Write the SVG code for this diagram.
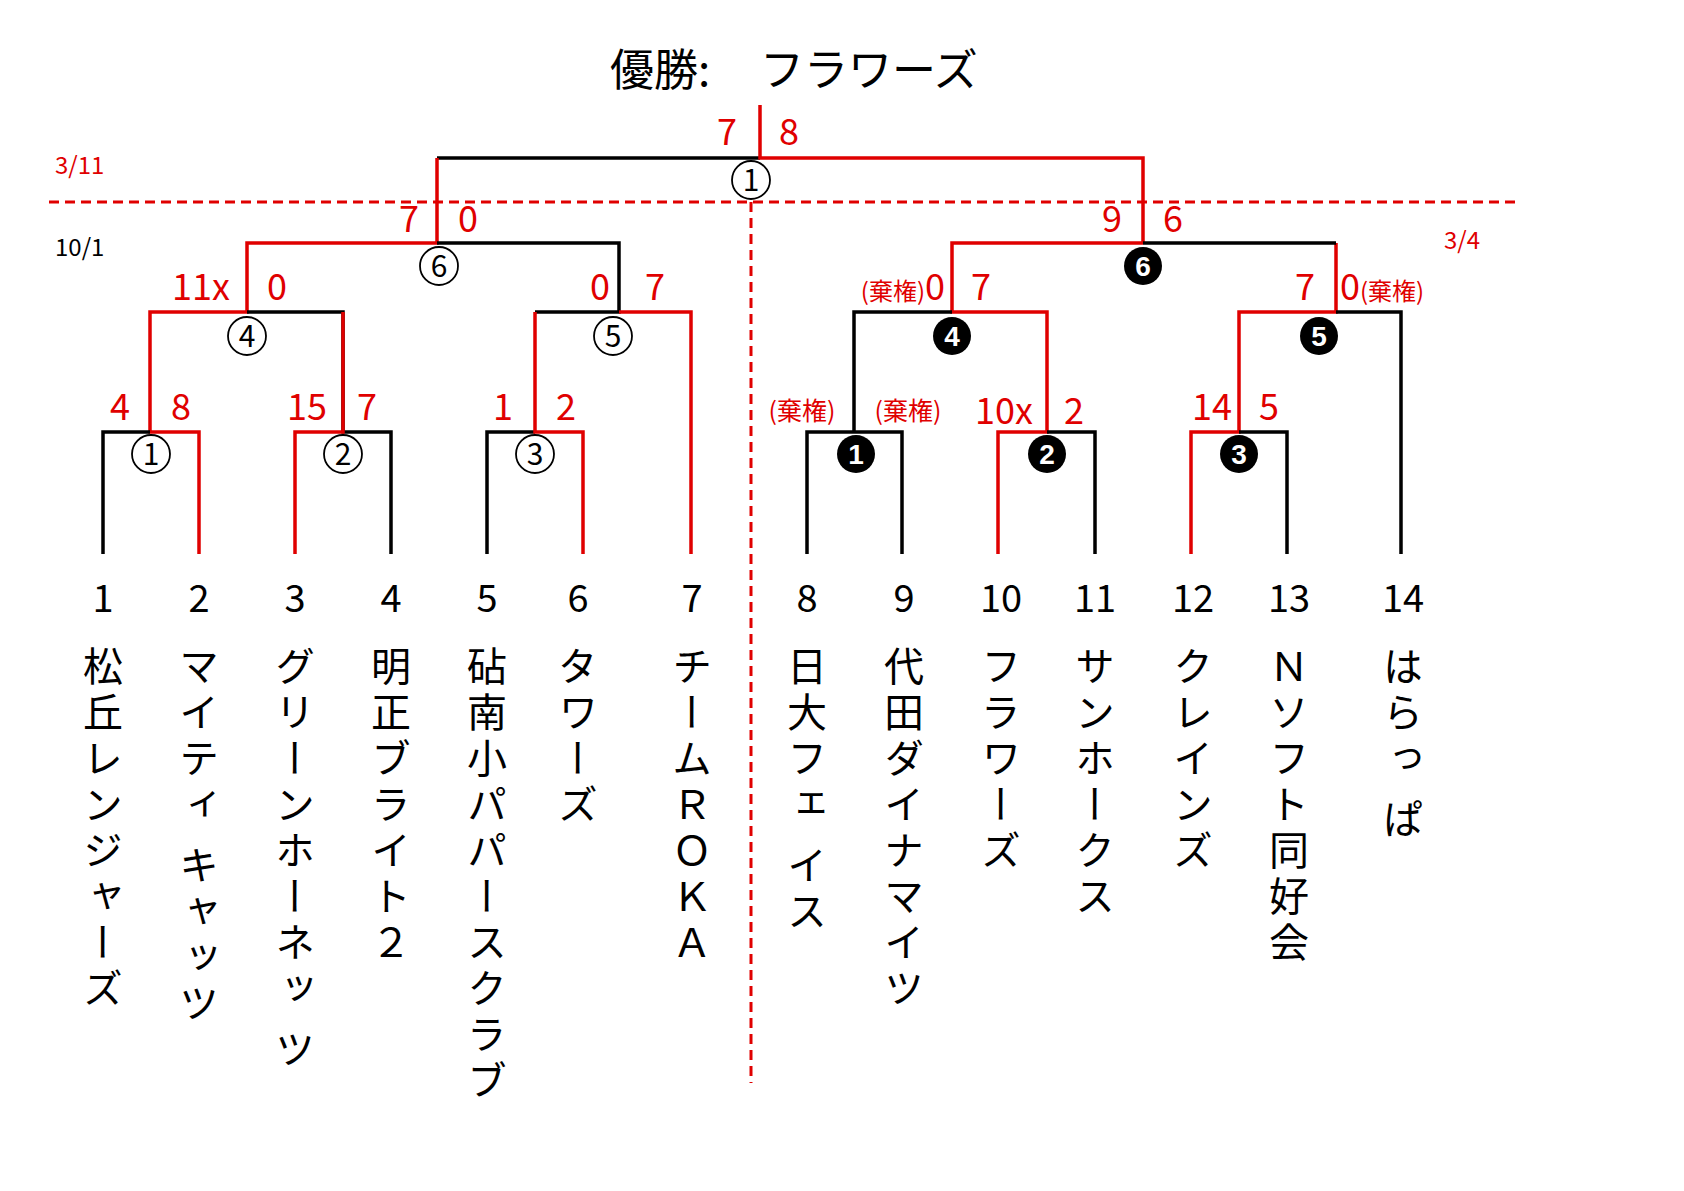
<svg xmlns="http://www.w3.org/2000/svg" width="1684" height="1191" viewBox="0 0 1684 1191">
<style>
.k{stroke:#000;stroke-width:3.5;fill:none}
.r{stroke:#e00000;stroke-width:3.5;fill:none}
.d{stroke:#e00000;stroke-width:3;fill:none;stroke-dasharray:10 6}
text{font-family:"Noto Sans CJK JP","Liberation Sans",sans-serif}
.s{fill:#e00000;font-size:36px;text-anchor:middle}
.e{text-anchor:end}
.st{text-anchor:start}
.sm{fill:#e00000;font-size:24px}
.num{font-size:38px;text-anchor:middle;fill:#000}
.nm{font-size:40px;fill:#000;writing-mode:vertical-rl;letter-spacing:6px}
.wc{fill:#fff;stroke:#000;stroke-width:1.8}
.wt{font-size:30px;text-anchor:middle;fill:#000}
.bt{font-size:28px;font-weight:bold;text-anchor:middle;fill:#fff;font-family:"Liberation Sans",sans-serif}
</style>
<rect width="1684" height="1191" fill="#fff"/>
<text x="610" y="86" font-size="44">優勝:</text>
<text x="760" y="86" font-size="44">フラワーズ</text>
<text x="55" y="174" class="sm">3/11</text>
<text x="55" y="256" font-size="24" fill="#000">10/1</text>
<text x="1444" y="249" class="sm">3/4</text>
<g id="connectors">
<path class="d" d="M49 202H1517M751 202V1083"/>
<path class="k" d="M437 158H760"/>
<path class="r" d="M760 105V158H1143V243M437 158V243H247V312H150V432H199V554"/>
<path class="k" d="M437 243H619V312H535M247 312H343V432H391V554M150 432H103V554M535 432H487V554"/>
<path class="r" d="M343 312V432H295V554M535 312V432H583V554M619 312H691V554"/>
<path class="r" d="M1143 243H952V312H1047V432H998V554M1336 243V312H1239V432H1191V554"/>
<path class="k" d="M1143 243H1336M952 312H854V432H807V554M854 432H902V554M1047 432H1095V554M1336 312H1401V554M1239 432H1287V554"/>
</g>
<g id="scores">
<text x="727" y="145" class="s">7</text><text x="789" y="145" class="s">8</text>
<text x="409" y="232" class="s">7</text><text x="468" y="232" class="s">0</text>
<text x="1112" y="232" class="s">9</text><text x="1173" y="232" class="s">6</text>
<text x="201" y="300" class="s">11x</text><text x="277" y="300" class="s">0</text>
<text x="600" y="300" class="s">0</text><text x="655" y="300" class="s">7</text>
<text x="945" y="300" class="s e"><tspan style="font-size:24px">(棄権)</tspan>0</text><text x="981" y="300" class="s">7</text>
<text x="1305" y="300" class="s">7</text><text x="1340" y="300" class="s st">0<tspan style="font-size:24px">(棄権)</tspan></text>
<text x="120" y="420" class="s">4</text><text x="181" y="420" class="s">8</text>
<text x="307" y="420" class="s">15</text><text x="367" y="420" class="s">7</text>
<text x="503" y="420" class="s">1</text><text x="566" y="420" class="s">2</text>
<text x="802" y="420" class="s" style="font-size:25px">(棄権)</text><text x="908" y="420" class="s" style="font-size:25px">(棄権)</text>
<text x="1004" y="424" class="s">10x</text><text x="1074" y="424" class="s">2</text>
<text x="1212" y="420" class="s">14</text><text x="1269" y="420" class="s">5</text>
</g>
<g id="n-f"><circle cx="751" cy="180" r="19" class="wc"/><text x="751" y="191" class="wt">1</text></g>
<g id="n-l6"><circle cx="439" cy="266" r="19" class="wc"/><text x="439" y="277" class="wt">6</text></g>
<g id="n-l4"><circle cx="247" cy="336" r="19" class="wc"/><text x="247" y="347" class="wt">4</text></g>
<g id="n-l5"><circle cx="613" cy="336" r="19" class="wc"/><text x="613" y="347" class="wt">5</text></g>
<g id="n-l1"><circle cx="151" cy="454" r="19" class="wc"/><text x="151" y="465" class="wt">1</text></g>
<g id="n-l2"><circle cx="343" cy="454" r="19" class="wc"/><text x="343" y="465" class="wt">2</text></g>
<g id="n-l3"><circle cx="535" cy="454" r="19" class="wc"/><text x="535" y="465" class="wt">3</text></g>
<g id="n-r6"><circle cx="1143" cy="266" r="19"/><text x="1143" y="276" class="bt">6</text></g>
<g id="n-r4"><circle cx="952" cy="336" r="19"/><text x="952" y="346" class="bt">4</text></g>
<g id="n-r5"><circle cx="1319" cy="336" r="19"/><text x="1319" y="346" class="bt">5</text></g>
<g id="n-r1"><circle cx="856" cy="454" r="19"/><text x="856" y="464" class="bt">1</text></g>
<g id="n-r2"><circle cx="1047" cy="454" r="19"/><text x="1047" y="464" class="bt">2</text></g>
<g id="n-r3"><circle cx="1239" cy="454" r="19"/><text x="1239" y="464" class="bt">3</text></g>
<g id="teams">
<text x="103" y="612" class="num">1</text><text x="199" y="612" class="num">2</text><text x="295" y="612" class="num">3</text><text x="391" y="612" class="num">4</text><text x="487" y="612" class="num">5</text><text x="578" y="612" class="num">6</text><text x="692" y="612" class="num">7</text><text x="807" y="612" class="num">8</text><text x="904" y="612" class="num">9</text><text x="1001" y="612" class="num">10</text><text x="1095" y="612" class="num">11</text><text x="1193" y="612" class="num">12</text><text x="1289" y="612" class="num">13</text><text x="1403" y="612" class="num">14</text>
<text x="103" y="646" class="nm">松丘レンジャーズ</text>
<text x="199" y="646" class="nm">マイティ キャッツ</text>
<text x="295" y="646" class="nm">グリーンホーネッ ツ</text>
<text x="391" y="646" class="nm">明正ブライト２</text>
<text x="487" y="646" class="nm">砧南小パパースクラブ</text>
<text x="578" y="646" class="nm">タワーズ</text>
<text x="692" y="646" class="nm">チームＲＯＫＡ</text>
<text x="807" y="646" class="nm">日大フェ イス</text>
<text x="904" y="646" class="nm">代田ダイナマイツ</text>
<text x="1001" y="646" class="nm">フラワーズ</text>
<text x="1095" y="646" class="nm">サンホークス</text>
<text x="1193" y="646" class="nm">クレインズ</text>
<text x="1289" y="646" class="nm">Ｎソフト同好会</text>
<text x="1403" y="646" class="nm">はらっ ぱ</text>
</g>
</svg>
